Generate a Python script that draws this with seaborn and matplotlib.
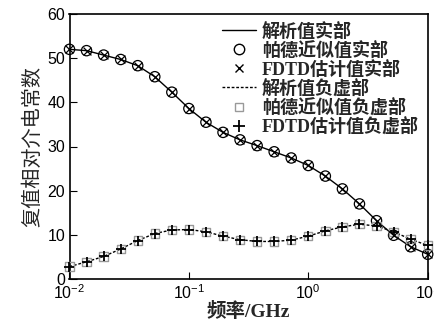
import numpy as np
import pandas as pd
import seaborn as sns
import matplotlib
matplotlib.use("Agg")
import matplotlib.pyplot as plt
from matplotlib.lines import Line2D

# frequency points (GHz), 7 per decade
freq = [0.01, 0.01389, 0.01931, 0.02683, 0.03728, 0.05179, 0.07197, 0.1,
        0.1389, 0.1931, 0.2683, 0.3728, 0.5179, 0.7197, 1.0,
        1.389, 1.931, 2.683, 3.728, 5.179, 7.197, 10.0]
real_part = [52.0, 51.7, 50.7, 49.7, 48.3, 45.8, 42.3, 38.6, 35.5, 33.2, 31.5,
             30.2, 28.8, 27.4, 25.7, 23.3, 20.4, 17.0, 13.2, 9.9, 7.3, 5.6]
neg_imag = [2.8, 3.9, 5.1, 6.8, 8.7, 10.3, 11.1, 11.2, 10.7, 9.7, 8.9,
            8.5, 8.5, 8.8, 9.7, 10.9, 11.8, 12.4, 12.0, 10.7, 9.0, 7.6]

labels = ["解析值实部", "帕德近似值实部", "FDTD估计值实部",
          "解析值负虚部", "帕德近似值负虚部", "FDTD估计值负虚部"]
xticks = [0.01, 0.1, 1, 10]
xticklabels = ["$10^{-2}$", "$10^{-1}$", "$10^{0}$", "$10^{1}$"]
yticks = [0, 10, 20, 30, 40, 50, 60]

df = pd.DataFrame({"f": freq, "re": real_part, "im": neg_imag})

sns.set_style("ticks")
plt.rcParams['font.family'] = ['Liberation Sans', 'Noto Sans CJK SC']
plt.rcParams['mathtext.fontset'] = 'custom'
plt.rcParams['mathtext.rm'] = 'Liberation Sans'
plt.rcParams['mathtext.it'] = 'Liberation Sans'
plt.rcParams['mathtext.default'] = 'regular'

fig = plt.figure(figsize=(4.34, 3.2), dpi=100)
ax = fig.add_axes([69.5/434, 1 - 279/320, (427.7-69.5)/434, (279-14)/320])

dash = (0, (2.0, 1.3))
sns.lineplot(data=df, x="f", y="re", ax=ax, color="black", lw=1.0)
sns.lineplot(data=df, x="f", y="im", ax=ax, color="black", lw=1.0, linestyle=dash)
sns.scatterplot(data=df, x="f", y="re", ax=ax, marker="o", s=55,
                facecolor="none", edgecolor="black", linewidth=0.9, clip_on=False, zorder=3)
sns.scatterplot(data=df, x="f", y="re", ax=ax, marker="x", s=32,
                color="black", linewidth=0.9, clip_on=False, zorder=4)
sns.scatterplot(data=df, x="f", y="im", ax=ax, marker="s", s=36,
                facecolor="none", edgecolor="#999999", linewidth=1.0, clip_on=False, zorder=3)
sns.scatterplot(data=df, x="f", y="im", ax=ax, marker="+", s=60,
                color="black", linewidth=1.3, clip_on=False, zorder=4)

ax.set_xscale("log")
ax.set_xlim(0.01, 10)
ax.set_ylim(0, 60)
ax.set_xticks(xticks)
ax.set_xticklabels(xticklabels)
ax.set_yticks(yticks)
ax.minorticks_off()
ax.tick_params(direction="in", length=5, width=0.8, labelsize=11.5, pad=3,
               colors="black")
for s in ax.spines.values():
    s.set_linewidth(1.2)
    s.set_color("black")

cjk_font = ['Liberation Serif', 'Noto Sans CJK SC']
ax.set_xlabel("频率/GHz", fontsize=14, family=cjk_font, fontweight="bold", labelpad=0)
ax.set_ylabel("复值相对介电常数", fontsize=14.5, family=['Noto Sans CJK SC'], labelpad=3)

handles = [
    Line2D([], [], color="black", lw=1.0),
    Line2D([], [], marker="o", ls="none", mfc="none", mec="black", ms=7.5),
    Line2D([], [], marker="x", ls="none", color="black", ms=5.5),
    Line2D([], [], color="black", lw=1.0, linestyle=dash),
    Line2D([], [], marker="s", ls="none", mfc="none", mec="#999999", ms=6),
    Line2D([], [], marker="+", ls="none", color="black", ms=8, mew=1.3),
]
ax.legend(handles, labels, loc="upper right", frameon=False,
          prop={"family": cjk_font, "size": 13, "weight": "bold"},
          handlelength=1.9, handletextpad=0.3, labelspacing=0.05,
          borderaxespad=0.0, bbox_to_anchor=(0.995, 0.995))

fig.savefig("out.png", dpi=100)
